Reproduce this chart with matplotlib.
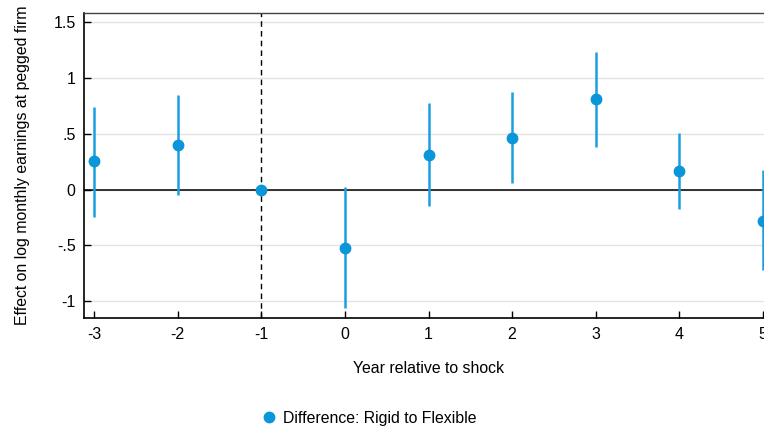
import matplotlib
matplotlib.use("Agg")
import matplotlib.pyplot as plt

plt.rcParams['font.family'] = ['Liberation Sans', 'DejaVu Sans']

years = [-3, -2, -1, 0, 1, 2, 3, 4, 5]
coef = [0.255, 0.398, 0.0, -0.52, 0.314, 0.466, 0.81, 0.168, -0.278]
ci_lo = [-0.242, -0.05, 0.0, -1.064, -0.15, 0.057, 0.386, -0.173, -0.72]
ci_hi = [0.744, 0.847, 0.0, 0.027, 0.775, 0.879, 1.232, 0.511, 0.177]

yticks = [-1, -0.5, 0, 0.5, 1, 1.5]
ytick_labels = ['-1', '-.5', '0', '.5', '1', '1.5']

blue = '#0a96d8'

fig = plt.figure(figsize=(7.64, 4.30), dpi=100)
ax = fig.add_axes([84 / 764, 1 - 318.3 / 430, (773 - 84) / 764, (318.3 - 12.7) / 430])

ax.set_xlim(-3.12, 5.12)
ax.set_ylim(-1.153, 1.587)

for yv in yticks:
    ax.axhline(yv, color='#e3e3e3', lw=1, zorder=0)
ax.axhline(0, color='black', lw=1.1, zorder=1)
ax.axvline(-1, color='black', lw=1, ls=(0, (4, 3)), zorder=1)

# skip the bar at the reference year (zero-width)
for x, lo, hi in zip(years, ci_lo, ci_hi):
    if hi > lo:
        ax.vlines(x, lo, hi, color='#1a9fe0', lw=1.8, zorder=2)
ax.plot(years, coef, 'o', color=blue, ms=7.5, zorder=3,
        label='Difference: Rigid to Flexible')

ax.set_xticks(years)
ax.set_xticklabels([str(y) for y in years])
ax.set_yticks(yticks)
ax.set_yticklabels(ytick_labels)
ax.tick_params(direction='in', length=5, width=1, labelsize=11.5, pad=6, color='black')

for s in ['left', 'bottom']:
    ax.spines[s].set_linewidth(1.2)
    ax.spines[s].set_color('black')
ax.spines['top'].set_color('#444444')
ax.spines['top'].set_linewidth(1)
ax.spines['right'].set_color('#444444')

ax.set_xlabel('Year relative to shock', fontsize=11.4, labelpad=14)
ax.set_ylabel('Effect on log monthly earnings at pegged firm', fontsize=11.4, labelpad=17)

fig.legend(loc='center', bbox_to_anchor=(368 / 764, 1 - 418 / 430), frameon=False,
           fontsize=11.4, handletextpad=0.3, handlelength=1.2)

fig.savefig('out.png', dpi=100)
